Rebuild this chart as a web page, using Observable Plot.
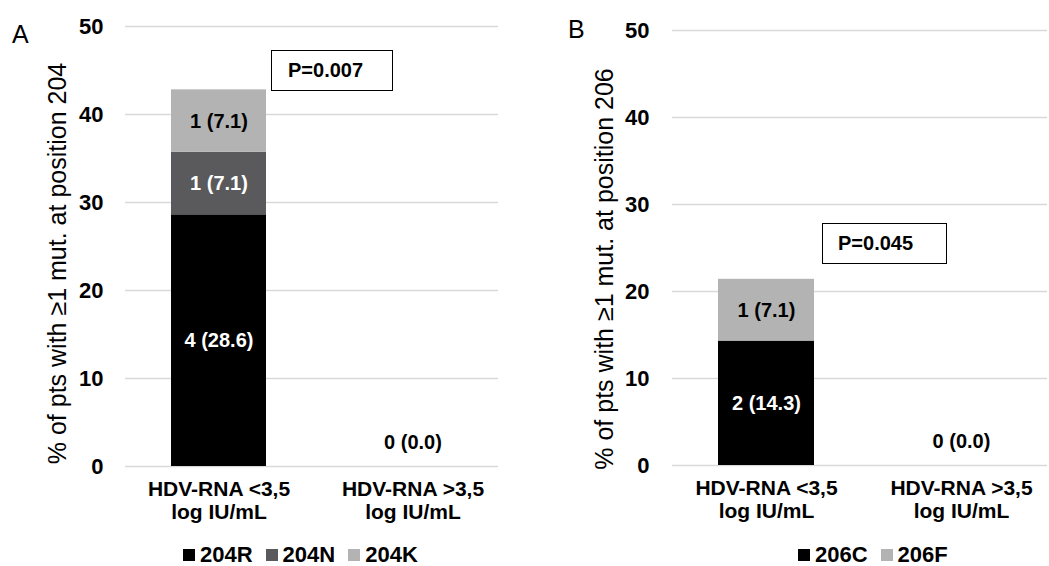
<!DOCTYPE html>
<html><head><meta charset="utf-8">
<script src="https://cdn.jsdelivr.net/npm/d3@7"></script>
<script src="https://cdn.jsdelivr.net/npm/@observablehq/plot@0.6"></script>
<style>
body{margin:0;background:#fff;font-family:"Liberation Sans",Arial,sans-serif;}
#wrap{position:relative;width:1049px;height:566px;overflow:hidden;background:#fff;}
.panel{position:absolute;top:0;}
.panel g[aria-label="y-axis tick label"] text, .panel g[aria-label="x-axis tick label"] text{font-weight:bold !important;}
.letter{position:absolute;font-size:25px;line-height:25px;color:#000;}
.legend{position:absolute;top:545px;height:20px;line-height:20px;font-weight:bold;font-size:22px;display:flex;align-items:center;white-space:nowrap;color:#000;}
.sw{display:inline-block;width:12px;height:12px;margin-right:5px;}
.item{display:inline-flex;align-items:center;margin-right:13px;}
.pbox{position:absolute;border:1.5px solid #000;font-weight:bold;font-size:20px;display:flex;align-items:center;box-sizing:border-box;background:#fff;color:#000;}
</style></head>
<body>
<div id="wrap"></div>
<script>
// ---- data ----
const categories = ["HDV-RNA <3,5\nlog IU/mL", "HDV-RNA >3,5\nlog IU/mL"];
const yTicks = [0, 10, 20, 30, 40, 50];

const seriesA = ["204R", "204N", "204K"];
const colorsA = ["#000000", "#5a5a5c", "#b3b3b3"];
const labelColorsA = ["white", "white", "black"];
const countsA_low = [4, 1, 1];
const pctA_low = [28.6, 7.1, 7.1];
const countsA_high = [0, 0, 0];
const pctA_high = [0, 0, 0];
const pValueA = "P=0.007";
const yTitleA = "% of pts with \u22651 mut. at position 204";

const seriesB = ["206C", "206F"];
const colorsB = ["#000000", "#b3b3b3"];
const labelColorsB = ["white", "black"];
const countsB_low = [2, 1];
const pctB_low = [14.3, 7.1];
const countsB_high = [0, 0];
const pctB_high = [0, 0];
const pValueB = "P=0.045";
const yTitleB = "% of pts with \u22651 mut. at position 206";

const FONT = '"Liberation Sans", Arial, sans-serif';

function buildRows(series, labelColors, countsLow, pctLow, countsHigh, pctHigh) {
  const rows = [];
  series.forEach((s, i) => rows.push({cat: categories[0], series: s, n: countsLow[i], pct: pctLow[i], lc: labelColors[i]}));
  series.forEach((s, i) => rows.push({cat: categories[1], series: s, n: countsHigh[i], pct: pctHigh[i], lc: labelColors[i]}));
  return rows;
}

function panel(cfg) {
  const rows = buildRows(cfg.series, cfg.labelColors, cfg.countsLow, cfg.pctLow, cfg.countsHigh, cfg.pctHigh);
  const totals = [{cat: categories[1], n: d3.sum(cfg.countsHigh), pct: d3.sum(cfg.pctHigh)}];
  const lab = d => `${d.n} (${d.pct.toFixed(1)})`;
  return Plot.plot({
    width: cfg.width, height: cfg.height,
    marginLeft: cfg.ml, marginRight: cfg.mr, marginTop: cfg.mt, marginBottom: cfg.mb,
    style: {fontFamily: FONT, color: "#000", background: "#fff", overflow: "visible"},
    x: {domain: categories, paddingInner: 0.51, paddingOuter: 0.215, align: 0.55, label: null},
    y: {domain: [0, 50], label: null},
    color: {domain: cfg.series, range: cfg.colors},
    marks: [
      Plot.gridY(yTicks, {stroke: "#d9d9d9", strokeOpacity: 1, strokeWidth: 1.5}),
      Plot.barY(rows, {x: "cat", y: "pct", fill: "series"}),
      Plot.text(rows, Plot.stackY({x: "cat", y: "pct", z: "series",
        text: d => (d.pct > 0 && d.lc === "white") ? lab(d) : null,
        fill: "white", fontSize: 20, fontWeight: "bold"})),
      Plot.text(rows, Plot.stackY({x: "cat", y: "pct", z: "series",
        text: d => (d.pct > 0 && d.lc === "black") ? lab(d) : null,
        fill: "black", fontSize: 20, fontWeight: "bold"})),
      Plot.text(totals, {x: "cat", y: "pct", text: lab, dy: -24, fill: "black", fontSize: 20, fontWeight: "bold"}),
      Plot.axisY(yTicks, {tickSize: 0, tickPadding: cfg.tp, fontSize: 22, fontWeight: "bold", label: null}),
      Plot.axisX({tickSize: 0, tickPadding: 13, fontSize: 21, fontWeight: "bold", lineHeight: 1.1, label: null}),
      Plot.text([cfg.yTitle], {text: d => d, frameAnchor: "left", rotate: -90, dx: cfg.tdx, dy: cfg.tdy,
        fontSize: 25, textAnchor: "middle", lineAnchor: "middle", fill: "black"})
    ]
  });
}

const wrap = d3.select("#wrap");

function addPanel(left, svg) {
  wrap.append("div").attr("class", "panel").style("left", left + "px").node().appendChild(svg);
}

addPanel(0, panel({series: seriesA, colors: colorsA, labelColors: labelColorsA,
  countsLow: countsA_low, pctLow: pctA_low, countsHigh: countsA_high, pctHigh: pctA_high,
  width: 520, height: 530, ml: 125, mr: 22, mt: 26, mb: 64, tp: 22, tdx: -68, tdy: 17, yTitle: yTitleA}));
addPanel(529, panel({series: seriesB, colors: colorsB, labelColors: labelColorsB,
  countsLow: countsB_low, pctLow: pctB_low, countsHigh: countsB_high, pctHigh: pctB_high,
  width: 520, height: 530, ml: 143, mr: 2, mt: 30, mb: 65, tp: 23, tdx: -68, tdy: 21, yTitle: yTitleB}));

// panel letters
wrap.append("div").attr("class", "letter").style("left", "12px").style("top", "22px").text("A");
wrap.append("div").attr("class", "letter").style("left", "568px").style("top", "17px").text("B");

// p-value boxes
wrap.append("div").attr("class", "pbox").style("left", "271px").style("top", "50px")
  .style("width", "122px").style("height", "41px").style("padding-left", "16px").text(pValueA);
wrap.append("div").attr("class", "pbox").style("left", "822px").style("top", "223px")
  .style("width", "125px").style("height", "41px").style("padding-left", "15px").text(pValueB);

// legends
function legend(left, series, colors) {
  const lg = wrap.append("div").attr("class", "legend").style("left", left + "px");
  series.forEach((s, i) => {
    const it = lg.append("span").attr("class", "item");
    it.append("span").attr("class", "sw").style("background", colors[i]);
    it.append("span").text(s);
  });
}
legend(183, seriesA, colorsA);
legend(798, seriesB, colorsB);
</script>
</body></html>
